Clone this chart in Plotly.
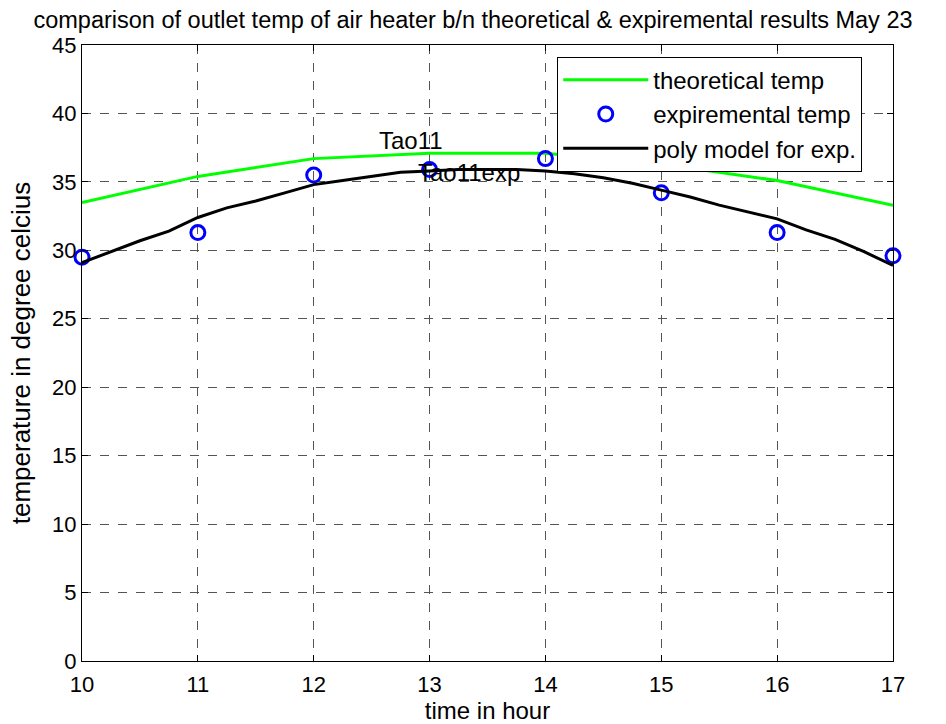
import plotly.graph_objects as go

hours = [10, 11, 12, 13, 14, 15, 16, 17]
theoretical_temp = [33.5, 35.4, 36.7, 37.1, 37.1, 36.3, 35.1, 33.3]
experimental_temp = [29.5, 31.3, 35.5, 35.9, 36.7, 34.2, 31.3, 29.6]

poly_hours = [10, 10.25, 10.5, 10.75, 11, 11.25, 11.5, 11.75, 12, 12.25, 12.5, 12.75,
              13, 13.25, 13.5, 13.75, 14, 14.25, 14.5, 14.75, 15, 15.25, 15.5, 15.75,
              16, 16.25, 16.5, 16.75, 17]
poly_temp = [29.1, 29.9, 30.7, 31.4, 32.4, 33.1, 33.6, 34.2, 34.8, 35.1, 35.4, 35.7,
             35.8, 35.9, 35.9, 35.9, 35.8, 35.6, 35.3, 34.9, 34.4, 33.9, 33.3, 32.8,
             32.3, 31.5, 30.8, 29.9, 28.9]

labels = [("Tao11", 12.55, 38.0), ("Tao11exp", 12.88, 35.7)]

FONT = "Liberation Sans, Arial, sans-serif"
TXT = 24
TICK = 22

fig = go.Figure()
fig.add_trace(go.Scatter(x=hours, y=theoretical_temp, mode="lines",
                         line=dict(color="#00ff00", width=3), name="theoretical temp"))
fig.add_trace(go.Scatter(x=hours, y=experimental_temp, mode="markers", cliponaxis=False,
                         marker=dict(symbol="circle-open", size=14, color="#0000ff",
                                     line=dict(width=3, color="#0000ff")),
                         name="expiremental temp"))
fig.add_trace(go.Scatter(x=poly_hours, y=poly_temp, mode="lines",
                         line=dict(color="black", width=3), name="poly model for exp."))

for txt, xx, yy in labels:
    fig.add_annotation(x=xx, y=yy, text=txt, showarrow=False, xanchor="left",
                       yanchor="middle", font=dict(family=FONT, size=TXT, color="black"))

axis_common = dict(showline=True, linecolor="black", linewidth=1, mirror="ticks",
                   ticks="inside", ticklen=6, tickcolor="black", automargin=False,
                   showgrid=True, gridcolor="#555555", griddash="dash", gridwidth=1,
                   zeroline=False, tickfont=dict(family=FONT, size=TICK, color="black"))

fig.update_xaxes(range=[10, 17], dtick=1, tick0=10, ticklabelstandoff=4,
                 title=dict(text="time in hour", font=dict(family=FONT, size=TXT, color="black"),
                            standoff=2),
                 **axis_common)
fig.update_yaxes(range=[0, 45], dtick=5, tick0=0, ticklabelstandoff=0,
                 title=dict(text="temperature in degree celcius",
                            font=dict(family=FONT, size=26, color="black"), standoff=14),
                 **axis_common)

fig.update_layout(
    width=946, height=724,
    margin=dict(l=82, r=53, t=45, b=63, autoexpand=False),
    paper_bgcolor="white", plot_bgcolor="white",
    title=dict(text="comparison of outlet temp of air heater b/n theoretical & expiremental results May 23",
               x=0.5, xanchor="center", y=0.973, yanchor="middle",
               font=dict(family=FONT, size=23.5, color="black")),
    legend=dict(x=0.586, y=0.981, xanchor="left", yanchor="top",
                bgcolor="white", bordercolor="black", borderwidth=1,
                font=dict(family=FONT, size=TXT, color="black"),
                itemwidth=85, tracegroupgap=0),
    showlegend=True,
)

fig.write_html("out.html")
